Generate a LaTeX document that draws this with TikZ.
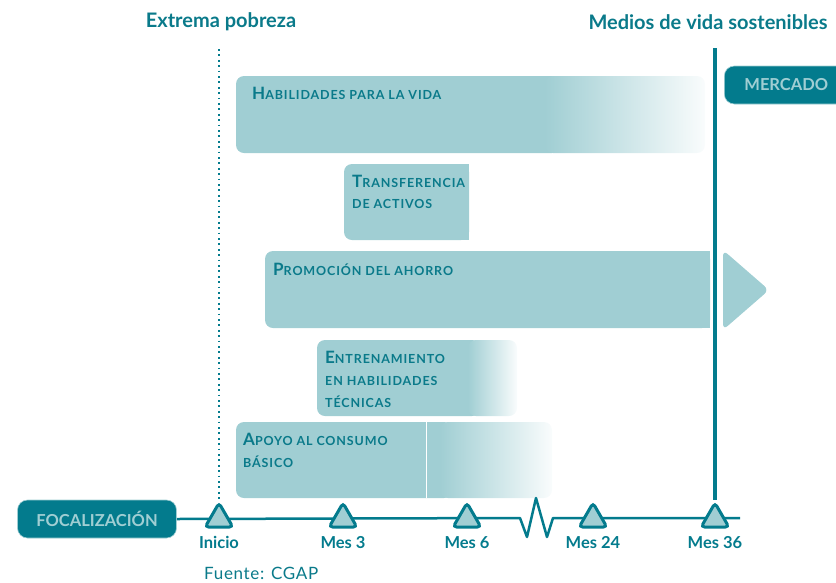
\documentclass[tikz,border=0pt]{standalone}
\usepackage{fontspec}
\setmainfont{Lato}
\newfontfamily\scfont[LetterSpace=7]{Lato}
\newfontfamily\srcfont[LetterSpace=4]{Lato}
\usetikzlibrary{shapes.geometric, positioning}
\usepackage{xcolor}
\definecolor{tealdark}{HTML}{037B8D}
\definecolor{tealtext}{HTML}{0A7A8A}
\definecolor{barfill}{HTML}{A0CED3}
% fake small caps: big first letter, smaller capitals after it
\newcommand{\capsc}[2]{{\fontsize{17}{22}\selectfont #1}#2}

\begin{document}
\begin{tikzpicture}[x=1pt, y=-1pt]
% Define styles
\tikzstyle{heading} = [text=tealtext, font=\bfseries\fontsize{20}{24}\selectfont]
\tikzstyle{bartext} = [text=tealtext, font=\scfont\bfseries\fontsize{12.5}{22}\selectfont, anchor=base west, inner sep=0pt]
\tikzstyle{tick} = [regular polygon, regular polygon sides=3, draw=tealdark, fill=barfill, line width=3pt, minimum size=32pt, inner sep=0pt, rounded corners=3.5pt]
\tikzstyle{ticklabel} = [text=tealdark, font=\bfseries\fontsize{16.5}{19}\selectfont, anchor=base]
\tikzstyle{tag} = [rectangle, rounded corners=10pt, fill=tealdark, draw=barfill, line width=0.6pt, text=barfill, font=\bfseries\fontsize{16.5}{19}\selectfont, minimum height=38pt]
\tikzstyle{timeline} = [draw=tealdark, line width=2.5pt]
\tikzstyle{startline} = [draw=tealdark, line width=1.8pt, dash pattern=on 1.8pt off 3.6pt]
\tikzstyle{endline} = [draw=tealdark, line width=3.5pt]

\useasboundingbox (0,0) rectangle (836,582);

% Headings
\node[heading] (pobreza) at (221,22) {Extrema pobreza};
\node[heading] (medios) at (708,22) {Medios de vida sostenibles};

% Bars
% Habilidades para la vida
\fill[barfill, rounded corners=8pt] (236,76) rectangle (560,153);
\shade[left color=barfill, right color=barfill!6, rounded corners=8pt] (545,76) rectangle (705,153);
\node[bartext] (vida) at (252,99) {\capsc{H}{ABILIDADES PARA LA VIDA}};
% Transferencia de activos
\fill[barfill, rounded corners=8pt] (344,164) rectangle (469,240);
\fill[barfill] (455,164) rectangle (469,240);
\node[bartext] (activosA) at (352,187) {\capsc{T}{RANSFERENCIA}};
\node[bartext] (activosB) at (352,208) {DE ACTIVOS};
% Promocion del ahorro
\fill[barfill, rounded corners=8pt] (265,251) rectangle (710,328);
\fill[barfill] (695,251) rectangle (710,328);
\fill[barfill, rounded corners=6pt] (723,250) -- (769,290) -- (723,330) -- cycle;
\node[bartext] (ahorro) at (273,275) {\capsc{P}{ROMOCIÓN DEL AHORRO}};
% Entrenamiento en habilidades tecnicas
\fill[barfill, rounded corners=8pt] (317,340) rectangle (480,416);
\shade[left color=barfill, right color=barfill!6, rounded corners=8pt] (468,340) rectangle (517,416);
\node[bartext] (tecnicasA) at (325,363) {\capsc{E}{NTRENAMIENTO}};
\node[bartext] (tecnicasB) at (325,385) {EN HABILIDADES};
\node[bartext] (tecnicasC) at (325,407) {TÉCNICAS};
% Apoyo al consumo basico
\fill[barfill, rounded corners=8pt] (236,422) rectangle (452,498);
\shade[left color=barfill, right color=barfill!6, rounded corners=8pt] (440,422) rectangle (552,498);
\draw[white, line width=0.6pt] (426,422) -- (426,498);
\node[bartext] (consumoA) at (243,445) {\capsc{A}{POYO AL CONSUMO}};
\node[bartext] (consumoB) at (243,467) {BÁSICO};

% Tags
\node[tag, minimum width=159pt] (foc) at (97,519) {FOCALIZACIÓN};
\node[tag, minimum width=124pt, anchor=west] (mercado) at (724,85) {MERCADO};

% Timeline
\coordinate (zA) at (520,518);
\coordinate (zB) at (527,537);
\coordinate (zC) at (536,498);
\coordinate (zD) at (547,537);
\coordinate (zE) at (553,518);
\coordinate (tlend) at (740,518);
\draw[timeline, line join=round] (foc.east) -- (zA) -- (zB) -- (zC) -- (zD) -- (zE) -- (tlend);

% Ticks
\node[tick] (t0) at (219,519) {};
\node[tick] (t1) at (343,519) {};
\node[tick] (t2) at (467,519) {};
\node[tick] (t3) at (593,519) {};
\node[tick] (t4) at (715,519) {};
\node[ticklabel] (l0) at (219,548) {Inicio};
\node[ticklabel] (l1) at (343,548) {Mes 3};
\node[ticklabel] (l2) at (467,548) {Mes 6};
\node[ticklabel] (l3) at (593,548) {Mes 24};
\node[ticklabel] (l4) at (715,548) {Mes 36};

% Vertical markers
\draw[startline] (219,49) -- (t0.north);
\draw[endline] (715,48) -- (t4.north);

% Source
\node[anchor=base west, text=tealtext, font=\srcfont\fontsize{17}{20}\selectfont, inner sep=0pt] (fuente) at (204,579) {Fuente: CGAP};
\end{tikzpicture}
\end{document}
